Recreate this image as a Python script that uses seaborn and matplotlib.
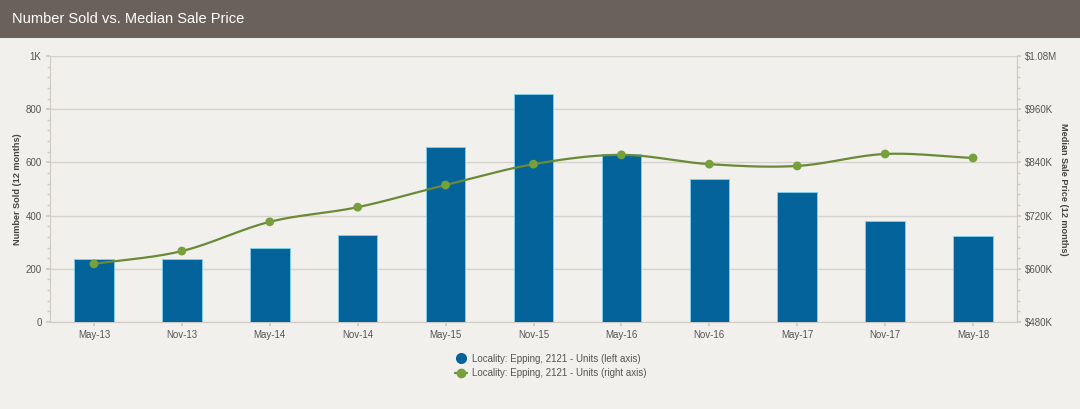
import numpy as np
import pandas as pd
import matplotlib
matplotlib.use("Agg")
import matplotlib.pyplot as plt
from matplotlib.patches import Rectangle
from matplotlib.lines import Line2D
from matplotlib.ticker import FixedLocator, MultipleLocator
import seaborn as sns

periods = ["May-13", "Nov-13", "May-14", "Nov-14", "May-15", "Nov-15",
           "May-16", "Nov-16", "May-17", "Nov-17", "May-18"]
number_sold = [237, 237, 278, 327, 658, 857, 632, 538, 489, 380, 323]
median_price = [611, 640, 706, 739, 789, 836, 857, 836, 832, 859, 850]  # $K

left_ticks = [0, 200, 400, 600, 800, 1000]
left_labels = ["0", "200", "400", "600", "800", "1K"]
right_ticks = [480, 600, 720, 840, 960, 1080]
right_labels = ["$480K", "$600K", "$720K", "$840K", "$960K", "$1.08M"]

title = "Number Sold vs. Median Sale Price"
bar_label = "Locality: Epping, 2121 - Units (left axis)"
line_label = "Locality: Epping, 2121 - Units (right axis)"

BG = "#f2f0ec"
BAR = "#04639b"
LINE = "#6a8a38"
MARK = "#76a03c"
TXT = "#555555"
GRID = "#d6d2cc"

sns.set_theme(style="white")
plt.rcParams["font.family"] = ["Liberation Sans", "DejaVu Sans"]

fig = plt.figure(figsize=(10.8, 4.09), dpi=100, facecolor=BG)
fig.patches.append(Rectangle((0, 1 - 38 / 409), 1, 38 / 409, transform=fig.transFigure,
                             facecolor="#6b615b", edgecolor="none", zorder=0))
fig.text(12 / 1080, 1 - 19 / 409, title, color="white", fontsize=10.5,
         va="center", ha="left")

ax = fig.add_axes([50 / 1080, 1 - 322 / 409, (1017 - 50) / 1080, (322 - 56) / 409])
ax.set_facecolor(BG)

df = pd.DataFrame({"period": periods, "sold": number_sold, "price": median_price})
sns.barplot(data=df, x="period", y="sold", color=BAR, width=0.45, ax=ax,
            edgecolor="#7fd3ee", linewidth=0.6, saturation=1, zorder=3)
ax.set_xlim(-0.5, len(periods) - 0.5)
ax.set_ylim(0, 1000)
ax.yaxis.set_major_locator(FixedLocator(left_ticks))
ax.set_yticklabels(left_labels)
ax.yaxis.set_minor_locator(MultipleLocator(40))
ax.grid(axis="y", color=GRID, linewidth=1, zorder=0)
ax.set_axisbelow(True)
ax.set_xlabel("")
ax.set_ylabel("Number Sold (12 months)", fontsize=6.6, color="#444444",
              fontweight="bold", va="center")
ax.yaxis.set_label_coords(-0.034, 0.5)
ax.spines["top"].set_visible(False)
for s in ["left", "right", "bottom"]:
    ax.spines[s].set_color("#cfcac3")
    ax.spines[s].set_linewidth(0.8)
ax.tick_params(axis="y", which="major", length=3, color="#cfcac3", labelsize=7,
               labelcolor=TXT, left=True, pad=3)
ax.tick_params(axis="y", which="minor", length=2, color="#cfcac3", left=True)
ax.tick_params(axis="x", length=3, color="#cfcac3", labelsize=7, labelcolor=TXT,
               bottom=True, pad=3)

ax2 = ax.twinx()
ax2.set_ylim(480, 1080)
ax2.yaxis.set_major_locator(FixedLocator(right_ticks))
ax2.set_yticklabels(right_labels)
ax2.yaxis.set_minor_locator(MultipleLocator(24))
ax2.tick_params(axis="y", which="major", length=3, color="#cfcac3", labelsize=7,
                labelcolor=TXT, right=True, pad=3)
ax2.tick_params(axis="y", which="minor", length=2, color="#cfcac3", right=True)
for s in ["top", "left", "bottom"]:
    ax2.spines[s].set_visible(False)
ax2.spines["right"].set_color("#cfcac3")
ax2.spines["right"].set_linewidth(0.8)
ax2.set_ylabel("Median Sale Price (12 months)", fontsize=6.6, color="#444444",
               fontweight="bold", rotation=270, va="center")
ax2.yaxis.set_label_coords(1.0476, 0.5)

# smooth curve through the data points (cubic Hermite, rendering only)
xs = np.arange(len(median_price), dtype=float)
ys = np.array(median_price, dtype=float)
m = np.gradient(ys, xs)
sx, sy = [], []
for i in range(len(xs) - 1):
    t = np.linspace(0, 1, 30)
    h00 = 2 * t**3 - 3 * t**2 + 1
    h10 = t**3 - 2 * t**2 + t
    h01 = -2 * t**3 + 3 * t**2
    h11 = t**3 - t**2
    sx.extend(xs[i] + t)
    sy.extend(h00 * ys[i] + h10 * m[i] + h01 * ys[i + 1] + h11 * m[i + 1])
ax2.plot(sx, sy, color=LINE, linewidth=1.6, zorder=4)
sns.scatterplot(x=xs, y=ys, color=MARK, s=40, edgecolor="none", ax=ax2, zorder=5)

handles = [
    Line2D([], [], linestyle="none", marker="o", markersize=7, color=BAR),
    Line2D([], [], color=LINE, linewidth=1.6, marker="o", markersize=6,
           markerfacecolor=MARK, markeredgecolor=MARK),
]
fig.legend(handles, [bar_label, line_label], loc="center",
           bbox_to_anchor=(0.51, 1 - 366 / 409), frameon=False, fontsize=7,
           labelcolor=TXT, handlelength=1.3, handletextpad=0.5, labelspacing=0.45)

fig.savefig("out.png", dpi=100, facecolor=BG)
